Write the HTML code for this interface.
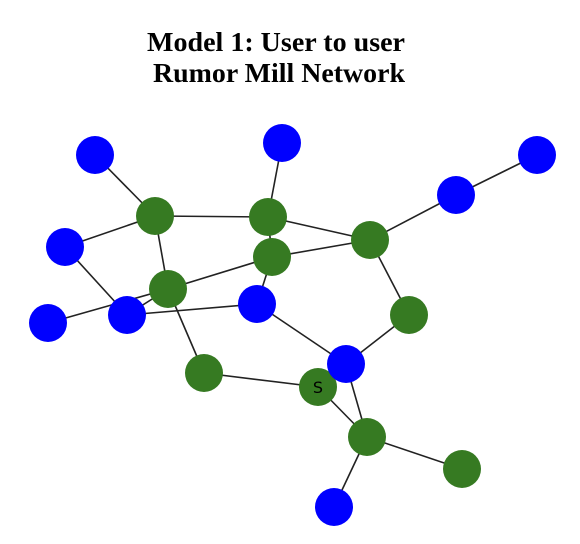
<!DOCTYPE html>
<html><head><style>body{margin:0;background:#fff}svg{display:block}</style></head><body>
<svg width="580" height="544" xmlns="http://www.w3.org/2000/svg">
<g font-family="Liberation Serif, serif" font-weight="bold" font-size="27" text-anchor="middle" fill="#000">
<text x="276" y="51" textLength="258" lengthAdjust="spacingAndGlyphs">Model 1: User to user</text>
<text x="279" y="82" textLength="252" lengthAdjust="spacingAndGlyphs">Rumor Mill Network</text>
</g>
<g stroke="#222" stroke-width="1.6">
<line x1="95" y1="155" x2="155" y2="216"/>
<line x1="155" y1="216" x2="268" y2="217"/>
<line x1="268" y1="217" x2="282" y2="143"/>
<line x1="268" y1="217" x2="370" y2="240"/>
<line x1="370" y1="240" x2="456" y2="195"/>
<line x1="456" y1="195" x2="537" y2="155"/>
<line x1="155" y1="216" x2="65" y2="247"/>
<line x1="65" y1="247" x2="127" y2="315"/>
<line x1="155" y1="216" x2="168" y2="289"/>
<line x1="268" y1="217" x2="272" y2="257"/>
<line x1="272" y1="257" x2="370" y2="240"/>
<line x1="48" y1="323" x2="168" y2="289"/>
<line x1="168" y1="289" x2="272" y2="257"/>
<line x1="127" y1="315" x2="168" y2="289"/>
<line x1="127" y1="315" x2="257" y2="304"/>
<line x1="272" y1="257" x2="257" y2="304"/>
<line x1="168" y1="289" x2="204" y2="373"/>
<line x1="204" y1="373" x2="318" y2="387"/>
<line x1="257" y1="304" x2="346" y2="364"/>
<line x1="370" y1="240" x2="409" y2="315"/>
<line x1="409" y1="315" x2="346" y2="364"/>
<line x1="346" y1="364" x2="367" y2="437"/>
<line x1="318" y1="387" x2="367" y2="437"/>
<line x1="367" y1="437" x2="462" y2="469"/>
<line x1="367" y1="437" x2="334" y2="507"/>
</g>
<g fill="#0000ff">
<circle cx="95" cy="155" r="19"/><circle cx="282" cy="143" r="19"/><circle cx="537" cy="155" r="19"/>
<circle cx="456" cy="195" r="19"/><circle cx="65" cy="247" r="19"/><circle cx="48" cy="323" r="19"/>
<circle cx="127" cy="315" r="19"/><circle cx="257" cy="304" r="19"/><circle cx="334" cy="507" r="19"/>
</g>
<g fill="#367a22">
<circle cx="155" cy="216" r="19"/><circle cx="268" cy="217" r="19"/><circle cx="370" cy="240" r="19"/>
<circle cx="272" cy="257" r="19"/><circle cx="168" cy="289" r="19"/><circle cx="409" cy="315" r="19"/>
<circle cx="204" cy="373" r="19"/><circle cx="318" cy="387" r="19"/>
</g>
<circle cx="346" cy="364" r="19" fill="#0000ff"/>
<g fill="#367a22"><circle cx="367" cy="437" r="19"/><circle cx="462" cy="469" r="19"/></g>
<text x="318" y="393" font-family="DejaVu Sans, sans-serif" font-size="16" text-anchor="middle" fill="#000">S</text>
</svg>
</body></html>
